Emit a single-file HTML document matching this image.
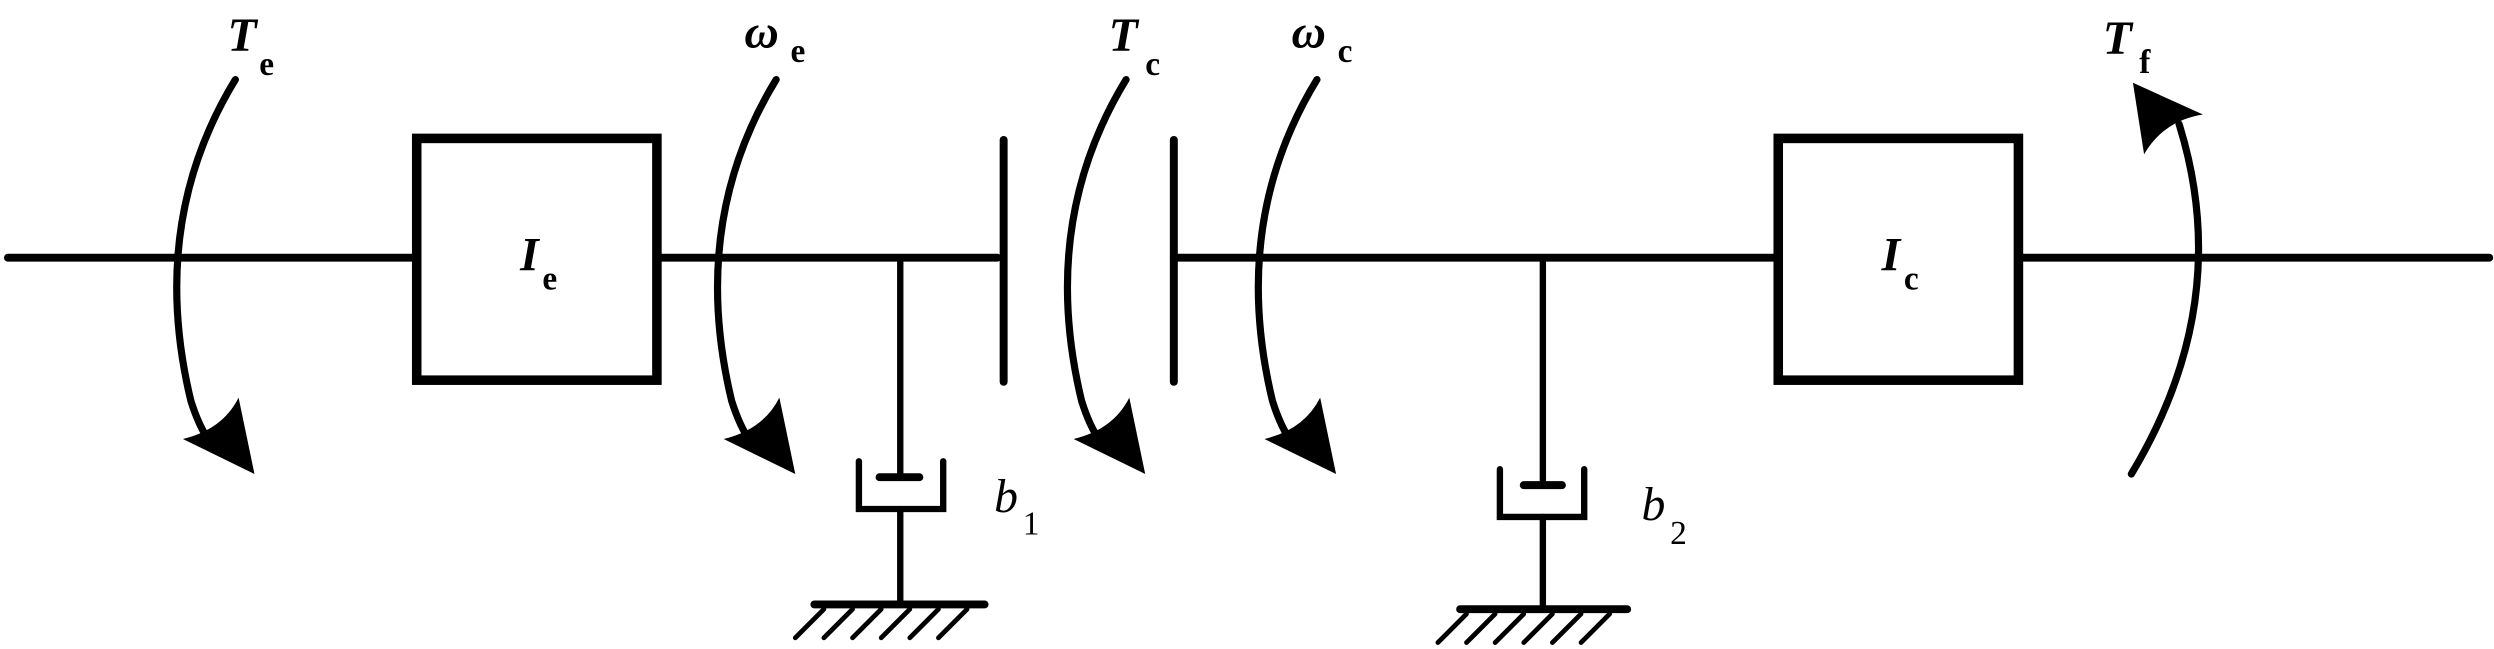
<!DOCTYPE html>
<html><head><meta charset="utf-8"><style>html,body{margin:0;padding:0;background:#fff}svg{display:block}</style></head>
<body>
<svg width="2494" height="649" viewBox="0 0 1568 408" xmlns="http://www.w3.org/2000/svg">
<g stroke="#000" fill="none" stroke-linecap="round">
<line x1="5" y1="162" x2="627" y2="162" stroke-width="5"/>
<line x1="738" y1="162" x2="1565" y2="162" stroke-width="5"/>
<rect x="262" y="87" width="151" height="152" fill="#fff" stroke-width="6" stroke-linecap="butt"/>
<rect x="1118" y="87" width="151" height="152" fill="#fff" stroke-width="6" stroke-linecap="butt"/>
<line x1="631" y1="88" x2="631" y2="240" stroke-width="5"/>
<line x1="738" y1="88" x2="738" y2="240" stroke-width="5"/>
<path d="M148,50 Q93,140 120,252 Q125,268 132,278" stroke-width="4.5"/>
<path d="M488,50 Q433,140 460,252 Q465,268 472,278" stroke-width="4.5"/>
<path d="M708,50 Q653,140 680,252 Q685,268 692,278" stroke-width="4.5"/>
<path d="M828,50 Q773,140 800,252 Q805,268 812,278" stroke-width="4.5"/>
<path d="M1340,298 Q1405,190 1370,78" stroke-width="4.5"/>
<line x1="566" y1="162" x2="566" y2="300" stroke-width="4"/>
<line x1="553" y1="300" x2="578" y2="300" stroke-width="5"/>
<path d="M540,290 V320 H593 V290" stroke-width="4"/>
<line x1="566" y1="320" x2="566" y2="380" stroke-width="4"/>
<line x1="512" y1="380" x2="619" y2="380" stroke-width="5"/>
<g stroke-width="3"><line x1="518" y1="383" x2="500" y2="401"/><line x1="536" y1="383" x2="518" y2="401"/><line x1="554" y1="383" x2="536" y2="401"/><line x1="572" y1="383" x2="554" y2="401"/><line x1="590" y1="383" x2="572" y2="401"/><line x1="608" y1="383" x2="590" y2="401"/></g>
<line x1="970" y1="162" x2="970" y2="305" stroke-width="4"/>
<line x1="958" y1="305" x2="982" y2="305" stroke-width="5"/>
<path d="M943,295 V325 H996 V295" stroke-width="4"/>
<line x1="970" y1="325" x2="970" y2="383" stroke-width="4"/>
<line x1="918" y1="383" x2="1023" y2="383" stroke-width="5"/>
<g stroke-width="3"><line x1="922" y1="386" x2="904" y2="404"/><line x1="940" y1="386" x2="922" y2="404"/><line x1="958" y1="386" x2="940" y2="404"/><line x1="976" y1="386" x2="958" y2="404"/><line x1="994" y1="386" x2="976" y2="404"/><line x1="1012" y1="386" x2="994" y2="404"/></g>
</g>
<g fill="#000">
<path d="M160,298 L115,276 Q140,270 150,250 Z"/>
<path d="M500,298 L455,276 Q480,270 490,250 Z"/>
<path d="M720,298 L675,276 Q700,270 710,250 Z"/>
<path d="M840,298 L795,276 Q820,270 830,250 Z"/>
<path d="M1341,52 L1385,72 Q1360,76 1348,97 Z"/>
</g>
<g font-family="Liberation Serif, serif" fill="#000">
<text x="143" y="32" font-size="30" font-style="italic" font-weight="bold">T</text><text x="163" y="47" font-size="21" font-weight="bold">e</text>
<text x="468" y="30" font-size="30" font-style="italic" font-weight="bold">ω</text><text x="497" y="39" font-size="21" font-weight="bold">e</text>
<text x="697" y="32" font-size="30" font-style="italic" font-weight="bold">T</text><text x="720" y="47" font-size="21" font-weight="bold">c</text>
<text x="812" y="30" font-size="30" font-style="italic" font-weight="bold">ω</text><text x="841" y="39" font-size="21" font-weight="bold">c</text>
<text x="1322" y="34" font-size="30" font-style="italic" font-weight="bold">T</text><text x="1345" y="46" font-size="21" font-weight="bold">f</text>
<text x="327" y="170" font-size="30" font-style="italic" font-weight="bold">I</text><text x="341" y="182" font-size="21" font-weight="bold">e</text>
<text x="1183" y="170" font-size="30" font-style="italic" font-weight="bold">I</text><text x="1197" y="182" font-size="21" font-weight="bold">c</text>
<text x="625" y="322" font-size="30" font-style="italic">b</text><text x="643" y="336" font-size="21">1</text>
<text x="1032" y="327" font-size="30" font-style="italic">b</text><text x="1050" y="342" font-size="21">2</text>
</g>
</svg>
</body></html>
